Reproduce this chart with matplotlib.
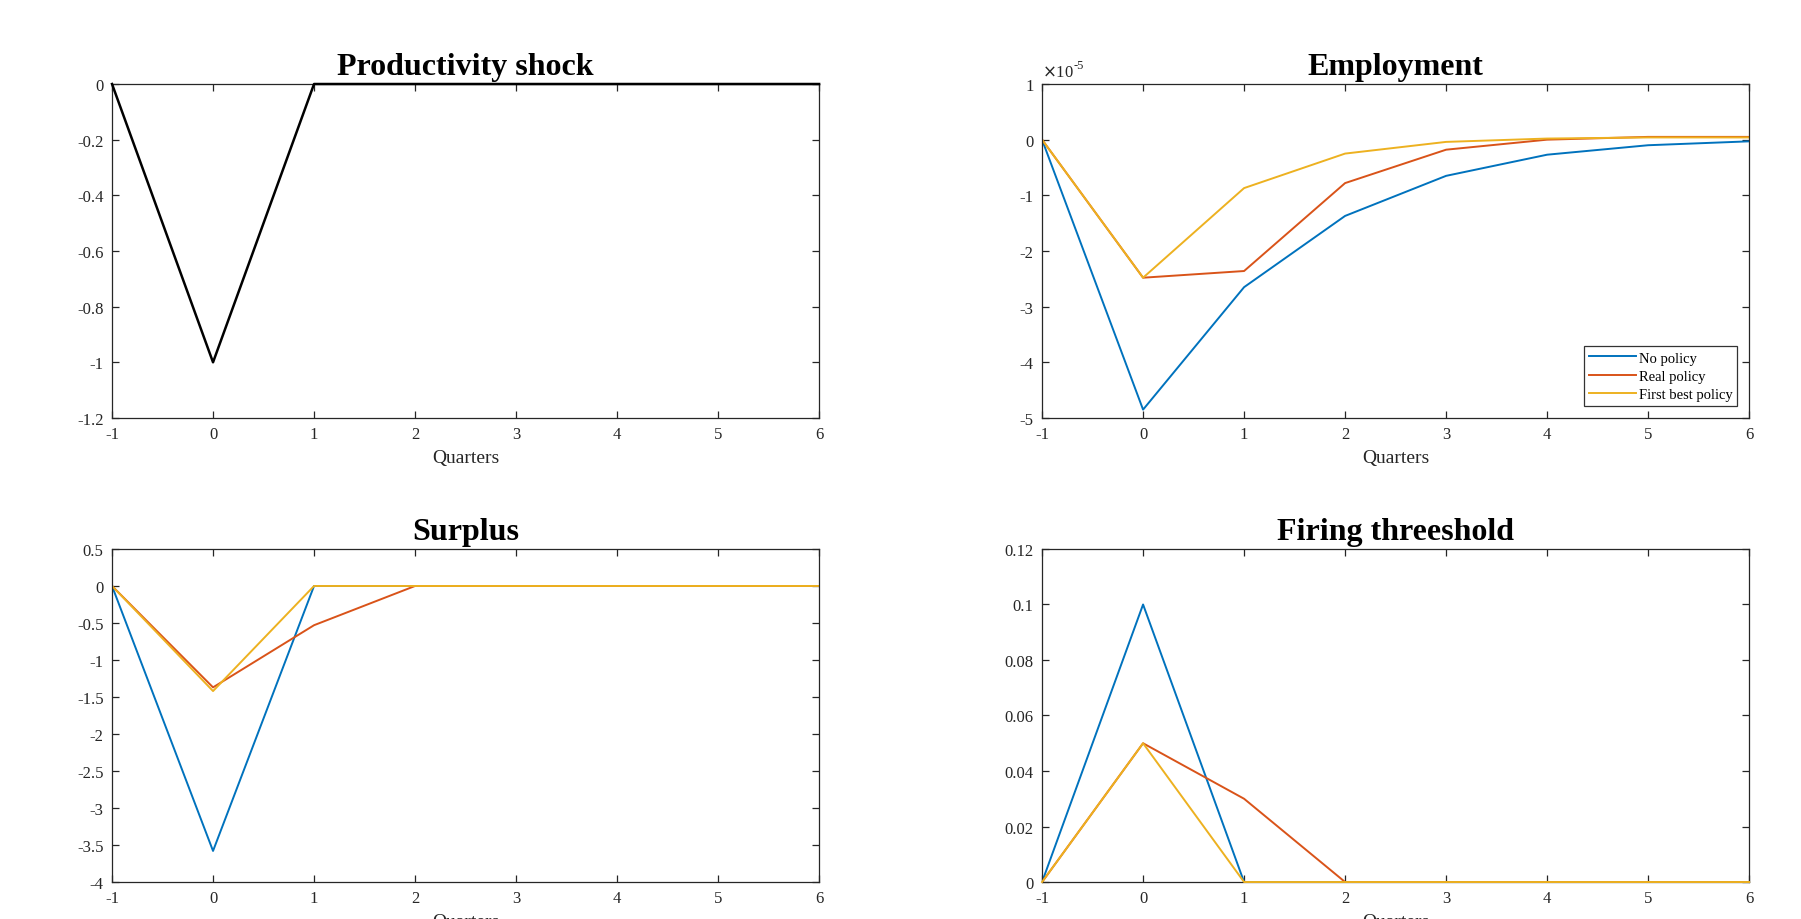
import numpy as np
import matplotlib
matplotlib.use("Agg")
import matplotlib.pyplot as plt
from matplotlib.ticker import FuncFormatter

plt.rcParams['font.family'] = ['Liberation Serif', 'DejaVu Serif']
plt.rcParams['axes.unicode_minus'] = False

# --- DATA ---
quarters = [-1, 0, 1, 2, 3, 4, 5, 6]

prod_shock = [0, -1.0, 0, 0, 0, 0, 0, 0]

# employment values in units of 1e-5
emp_no_policy = [0, -4.85, -2.65, -1.37, -0.65, -0.27, -0.10, -0.03]
emp_real_policy = [0, -2.48, -2.36, -0.78, -0.18, 0.00, 0.05, 0.05]
emp_first_best = [0, -2.48, -0.87, -0.25, -0.04, 0.02, 0.04, 0.04]

surp_no_policy = [0, -3.58, 0, 0, 0, 0, 0, 0]
surp_real_policy = [0, -1.37, -0.53, 0, 0, 0, 0, 0]
surp_first_best = [0, -1.42, 0, 0, 0, 0, 0, 0]

fire_no_policy = [0, 0.10, 0, 0, 0, 0, 0, 0]
fire_real_policy = [0, 0.05, 0.03, 0, 0, 0, 0, 0]
fire_first_best = [0, 0.05, 0, 0, 0, 0, 0, 0]

legend_labels = ['No policy', 'Real policy', 'First best policy']

# MATLAB default colour order
C_BLUE = '#0072BD'
C_RED = '#D95319'
C_YEL = '#EDB120'
AX_GRAY = '#262626'
LW = 1.4

fig = plt.figure(figsize=(18.01, 9.2), dpi=100)

w, h = 0.3926, 0.363
ax_tl = fig.add_axes([0.0622, 0.5446, w, h])
ax_tr = fig.add_axes([0.5786, 0.5446, w, h])
ax_bl = fig.add_axes([0.0622, 0.0402, w, 0.362])
ax_br = fig.add_axes([0.5786, 0.0402, w, 0.362])


def fmt_g(v, p):
    return '%g' % (round(v, 6) + 0.0)


def style(ax, title, ylim, yticks):
    ax.set_xlim(-1, 6)
    ax.set_xticks(quarters)
    ax.set_ylim(*ylim)
    ax.set_yticks(yticks)
    ax.xaxis.set_major_formatter(FuncFormatter(fmt_g))
    ax.yaxis.set_major_formatter(FuncFormatter(fmt_g))
    ax.tick_params(direction='in', top=True, right=True, length=5,
                   width=0.9, colors=AX_GRAY, labelsize=12, pad=6)
    for s in ax.spines.values():
        s.set_color(AX_GRAY)
        s.set_linewidth(0.9)
    ax.set_title(title, fontsize=23, fontweight='bold', pad=7)
    ax.set_xlabel('Quarters', fontsize=14, color=AX_GRAY, labelpad=5)


# Productivity shock
ax_tl.plot(quarters, prod_shock, color='black', lw=1.8, clip_on=False, zorder=5)
style(ax_tl, 'Productivity shock', (-1.2, 0), np.arange(-1.2, 0.01, 0.2))

# Employment
scale = 1e-5
ax_tr.plot(quarters, np.array(emp_no_policy) * scale, color=C_BLUE, lw=LW, label=legend_labels[0])
ax_tr.plot(quarters, np.array(emp_real_policy) * scale, color=C_RED, lw=LW, label=legend_labels[1])
ax_tr.plot(quarters, np.array(emp_first_best) * scale, color=C_YEL, lw=LW, label=legend_labels[2])
style(ax_tr, 'Employment', (-5e-5, 1e-5), np.arange(-5, 1.01, 1) * scale)
ax_tr.yaxis.set_major_formatter(FuncFormatter(lambda v, p: fmt_g(v / scale, p)))
t_exp = ax_tr.text(0.0, 1.012, r'$\times$10', transform=ax_tr.transAxes,
                   fontsize=12, color=AX_GRAY, ha='left', va='bottom')
ax_tr.annotate('-5', xy=(1.0, 0.55), xycoords=t_exp, fontsize=9,
               color=AX_GRAY, ha='left', va='bottom')
leg = ax_tr.legend(loc='lower right', fontsize=10.5, frameon=True, fancybox=False,
                   edgecolor='black', handlelength=3.2, handletextpad=0.2,
                   labelspacing=0.35, borderpad=0.35, borderaxespad=0.8)
leg.get_frame().set_linewidth(0.9)

# Surplus
ax_bl.plot(quarters, surp_no_policy, color=C_BLUE, lw=LW)
ax_bl.plot(quarters, surp_real_policy, color=C_RED, lw=LW)
ax_bl.plot(quarters, surp_first_best, color=C_YEL, lw=LW)
style(ax_bl, 'Surplus', (-4, 0.5), np.arange(-4, 0.51, 0.5))

# Firing threshold
ax_br.plot(quarters, fire_no_policy, color=C_BLUE, lw=LW)
ax_br.plot(quarters, fire_real_policy, color=C_RED, lw=LW)
ax_br.plot(quarters, fire_first_best, color=C_YEL, lw=LW, clip_on=False, zorder=4)
style(ax_br, 'Firing threeshold', (0, 0.12), np.arange(0, 0.121, 0.02))

fig.savefig('out.png', dpi=100)
